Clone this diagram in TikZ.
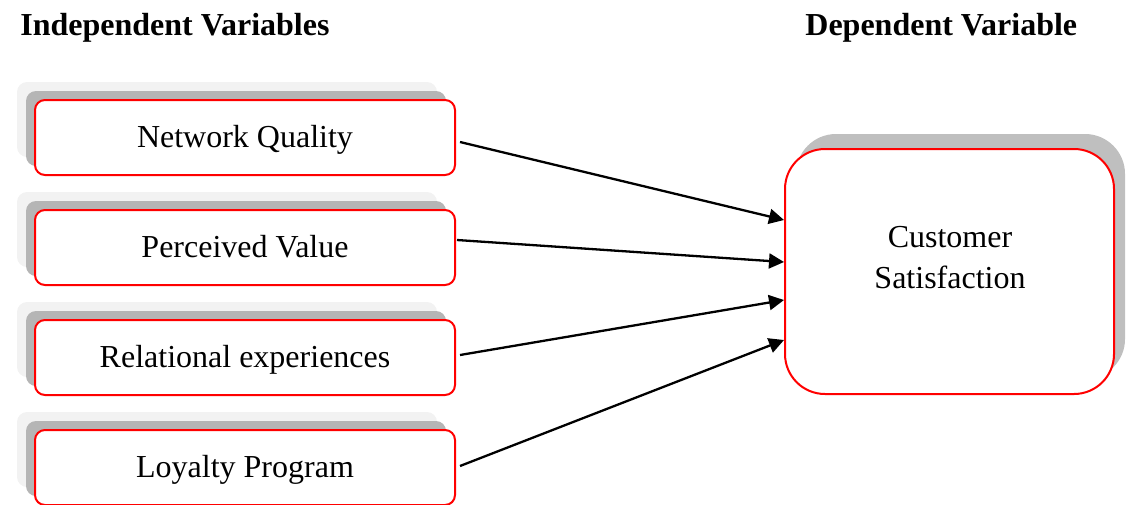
\documentclass[tikz,border=0pt]{standalone}
\usepackage{fontspec}
\setmainfont{Liberation Serif}
\usetikzlibrary{arrows.meta,shadows,calc}
\tikzset{
  ivbox/.style={draw=red, line width=1pt, fill=white, rounded corners=5pt,
    minimum width=210pt, minimum height=37.5pt, inner sep=0pt,
    text depth=1.5pt,
    font=\fontsize{16}{19}\selectfont,
    general shadow={fill=black!5, shadow xshift=-9pt, shadow yshift=9pt},
    general shadow={fill=black!29, shadow xshift=-4.5pt, shadow yshift=4.5pt}},
  dvbox/.style={draw=red, line width=1pt, fill=white, rounded corners=20pt,
    minimum width=164.5pt, minimum height=122.5pt, inner sep=0pt,
    general shadow={fill=black!25, shadow xshift=5.5pt, shadow yshift=7.5pt}},
  heading/.style={font=\fontsize{16}{19}\selectfont\bfseries, inner sep=0pt, anchor=west},
  link/.style={line width=1.15pt, -{Triangle[length=7.5pt,width=7.5pt]}}
}
\begin{document}
\begin{tikzpicture}[x=0.5pt,y=-0.5pt]
\useasboundingbox (0,0) rectangle (1127,504);
\node[heading] (hi) at (20,28) {Independent Variables};
\node[heading] (hd) at (805,28) {Dependent Variable};
\node[ivbox] (nq) at (245,137.5) {Network Quality};
\node[ivbox] (pv) at (245,247.5) {Perceived Value};
\node[ivbox] (re) at (245,357.5) {Relational experiences};
\node[ivbox] (lp) at (245,467.5) {Loyalty Program};
\node[dvbox] (cs) at (949.5,271.5) {};
\node[font=\fontsize{16}{20.5}\selectfont, align=center, inner sep=0pt] (cst) at (950,257.5) {Customer\\Satisfaction};
\draw[link] ([xshift=2pt,yshift=-2.25pt]nq.east) -- ([yshift=25.75pt]cs.west);
\draw[link] ([xshift=0.5pt,yshift=3.75pt]pv.east) -- ([yshift=4.75pt]cs.west);
\draw[link] ([xshift=2pt,yshift=1.25pt]re.east) -- ([yshift=-14.25pt]cs.west);
\draw[link] ([xshift=2pt,yshift=0.75pt]lp.east) -- ([yshift=-34.25pt]cs.west);
\end{tikzpicture}
\end{document}
